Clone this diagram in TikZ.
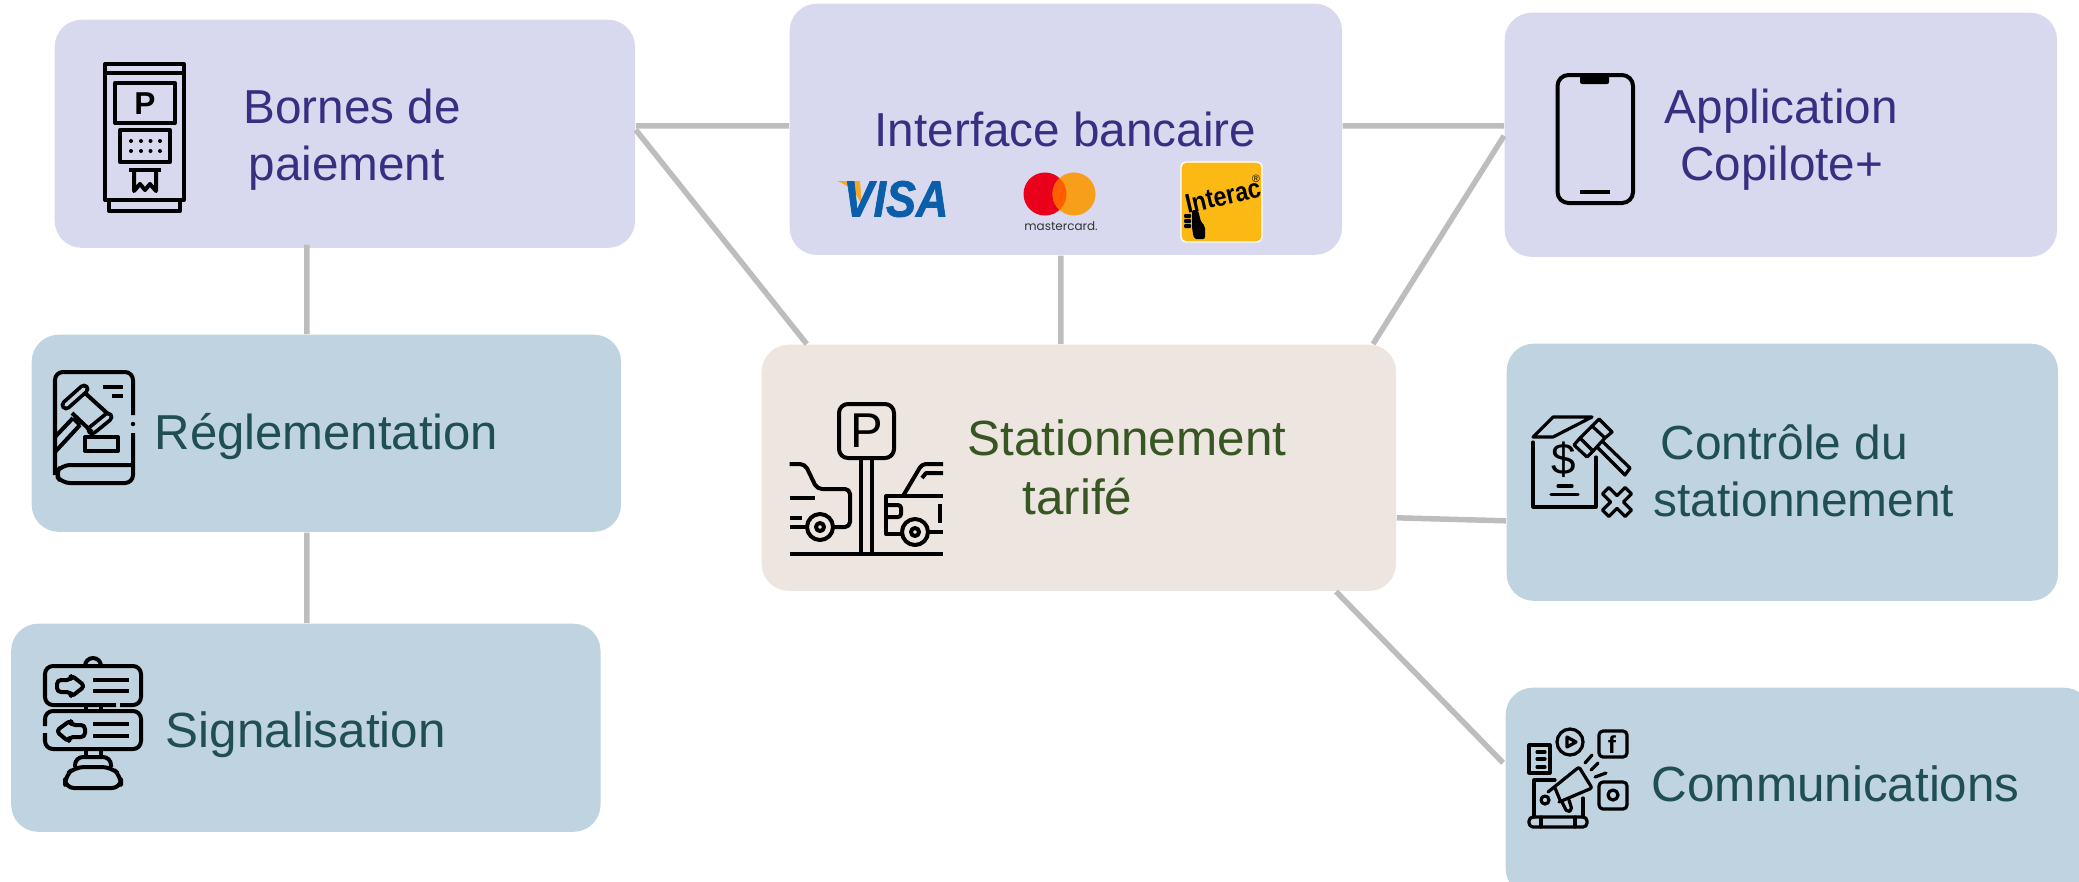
\documentclass[tikz,border=0pt]{standalone}
\usepackage{fontspec}
\setmainfont{Liberation Sans}
\newfontfamily\mcfont{Poppins}
\newfontfamily\visafont[BoldItalicFeatures={FakeBold=1.5}]{Liberation Sans}
\usepackage{xcolor}
\usetikzlibrary{positioning}
\definecolor{navfill}{RGB}{216,217,239}
\definecolor{infofill}{RGB}{191,212,224}
\definecolor{corefill}{RGB}{236,229,224}
\definecolor{navtext}{RGB}{54,47,130}
\definecolor{infotext}{RGB}{31,78,84}
\definecolor{coretext}{RGB}{55,86,35}
\definecolor{linkgray}{RGB}{189,189,189}
\definecolor{visablue}{RGB}{10,94,170}
\definecolor{visaorange}{RGB}{247,168,35}
\definecolor{mcred}{RGB}{235,0,27}
\definecolor{mcorange}{RGB}{247,158,27}
\definecolor{mcmix}{RGB}{255,95,0}
\definecolor{interacfill}{RGB}{253,185,19}

\begin{document}
\begin{tikzpicture}[
    x=0.01cm, y=-0.01cm,
    box/.style={rectangle, rounded corners=0.27cm, inner sep=0pt, anchor=north west},
    navbox/.style={box, fill=navfill},
    infobox/.style={box, fill=infofill},
    corebox/.style={box, fill=corefill},
    label/.style={anchor=base west, inner sep=0pt, align=left},
    navlabel/.style={label, text=navtext, font=\fontsize{13.55}{16}\selectfont},
    infolabel/.style={label, text=infotext, font=\fontsize{14.05}{16.2}\selectfont},
    corelabel/.style={label, text=coretext, font=\fontsize{14.05}{16.7}\selectfont},
    link/.style={draw=linkgray, line width=0.055cm},
    icon/.style={draw=black, line width=0.04cm, line join=round},
    thin icon/.style={draw=black, line width=0.032cm, line join=round, line cap=round}
]
    \useasboundingbox (0,0) rectangle (2079,881);

    % Boxes
    \node[navbox, minimum width=5.80cm, minimum height=2.28cm] (bornes) at (54,19) {};
    \node[navbox, minimum width=5.52cm, minimum height=2.51cm] (bancaire) at (789,3) {};
    \node[navbox, minimum width=5.52cm, minimum height=2.44cm] (copilote) at (1504,12) {};
    \node[infobox, minimum width=5.89cm, minimum height=1.97cm] (regle) at (31,334) {};
    \node[infobox, minimum width=5.89cm, minimum height=2.08cm] (signal) at (10.5,623) {};
    \node[corebox, minimum width=6.34cm, minimum height=2.46cm] (tarif) at (761,344) {};
    \node[infobox, minimum width=5.51cm, minimum height=2.57cm] (controle) at (1506,343) {};
    \node[infobox, minimum width=5.85cm, minimum height=2.08cm] (comm) at (1505,687) {};

    % Links
    \draw[link] ([yshift=0.08cm]bornes.east) -- ([yshift=0.035cm]bancaire.west);
    \draw[link] ([yshift=0.04cm]bornes.east) -- ([xshift=-2.72cm]tarif.north);
    \draw[link] ([xshift=-0.38cm, yshift=0.04cm]bornes.south) -- ([xshift=-0.195cm]regle.north);
    \draw[link] ([xshift=-0.195cm]regle.south) -- ([xshift=0.01cm]signal.north);
    \draw[link] ([yshift=0.035cm]bancaire.east) -- ([yshift=0.09cm]copilote.west);
    \draw[link] ([xshift=-0.05cm]bancaire.south) -- ([xshift=-0.18cm]tarif.north);
    \draw[link] ([xshift=2.94cm]tarif.north) -- ([yshift=-0.01cm]copilote.west);
    \draw[link] ([yshift=-0.5cm]tarif.east) -- ([yshift=-0.485cm]controle.west);
    \draw[link] ([xshift=2.57cm]tarif.south) -- ([xshift=-0.02cm, yshift=0.29cm]comm.west);

    % Labels
    \node[navlabel] (bornestext) at (243,180) {Bornes de\\\hspace*{1.4pt}paiement};
    \node[navlabel] (bancairetext) at (874,146.5) {Interface bancaire};
    \node[navlabel] (copilotetext) at (1664,180) {Application\\\hspace*{4.5pt}Copilote+};
    \node[infolabel, font=\fontsize{13.95}{16.2}\selectfont] (regletext) at (154,449) {Réglementation};
    \node[infolabel] (signaltext) at (165,747) {Signalisation};
    \node[corelabel] (tariftext) at (967,514) {Stationnement\\\hspace*{15.6pt}tarifé};
    \node[infolabel, font=\fontsize{13.6}{16.2}\selectfont] (controletext) at (1653,516) {\hspace*{2pt}Contrôle du\\stationnement};
    \node[infolabel] (commtext) at (1651,801) {Communications};

    % Parking meter
    \draw[icon] (105,64) rectangle (184,200);
    \draw[icon] (105,73) -- (184,73);
    \draw[icon] (109,200) -- (109,211) -- (180,211) -- (180,200);
    \draw[icon] (115,83) rectangle (175,123);
    \node[font=\fontsize{9}{9}\selectfont\bfseries, inner sep=0pt] (meterp) at (145,104) {P};
    \draw[icon] (120,130) rectangle (170,162);
    \foreach \x in {131,141,150.5,160} {
        \foreach \y in {141,151} {
            \fill (\x,\y) circle[radius=0.02cm];
        }
    }
    \draw[icon] (129,170) -- (161,170);
    \draw[icon] (134,170) -- (134,191) -- (140,184) -- (145,190) -- (150,184) -- (156,191) -- (156,170);

    % Law book
    \draw[icon, rounded corners=0.08cm] (133,415) -- (133,372) -- (55,372) -- (55,475);
    \draw[icon, rounded corners=0.08cm] (133,433) -- (133,483) -- (62,483) -- (55,474) -- (62,465) -- (133,465);
    \fill (133,424) circle[radius=0.022cm];
    \draw[icon] (103,387) -- (123,387) (112,396) -- (123,396);
    \draw[icon, line width=0.11cm, line cap=round] (66,405) -- (84,389);
    \draw[infofill, line width=0.035cm, line cap=round] (66,405) -- (84,389);
    \draw[icon, line width=0.11cm, line cap=round] (92,430) -- (108,417);
    \draw[infofill, line width=0.035cm, line cap=round] (92,430) -- (108,417);
    \draw[icon] (85,393) -- (107,413) (72,413) -- (92,432);
    \draw[icon] (73,418) -- (80,425) (73,418) -- (55,437) (80,425) -- (55,452);
    \draw[icon] (85,437) rectangle (118,451);

    % Road signs
    \draw[icon, rounded corners=0.08cm] (120,705) -- (141,705) -- (141,666) -- (45,666) -- (45,705) -- (116,705);
    \draw[icon, rounded corners=0.08cm] (45,726) -- (45,711) -- (141,711) -- (141,749) -- (45,749) -- (45,733);
    \draw[icon] (85,666) arc[start angle=180, end angle=0, radius=0.08cm];
    \draw[icon] (86,705) -- (86,711) (101,705) -- (101,711) (86,749) -- (86,757) (101,749) -- (101,757);
    \draw[icon, rounded corners=0.04cm] (57,680) -- (71,680) -- (71,675) -- (85,686) -- (71,697) -- (71,692) -- (57,692) -- cycle;
    \draw[icon, rounded corners=0.04cm] (85,725) -- (71,725) -- (71,720) -- (56,731) -- (69,742) -- (69,737) -- (85,737) -- cycle;
    \draw[icon] (93,680) -- (129,680) (93,691) -- (129,691) (93,724) -- (129,724) (93,736) -- (129,736);
    \draw[icon, rounded corners=0.08cm] (75,767) -- (75,757) -- (111,757) -- (111,767);
    \draw[icon, rounded corners=0.09cm] (75,767) -- (111,767) -- (121,776) -- (121,788) -- (65,788) -- (65,776) -- cycle;

    % Parking sign and cars
    \draw[icon, rounded corners=0.09cm] (839,404) rectangle (894,458);
    \node[font=\fontsize{13.9}{14}\selectfont, inner sep=0pt] (signp) at (867,431) {P};
    \draw[icon] (861,458) -- (861,553) (872,458) -- (872,553);
    \draw[icon] (789.5,554) -- (943,554);
    \draw[icon, rounded corners=0.05cm] (789.5,464) -- (805,464) -- (817,489) -- (850,489) -- (850,527) -- (832,527);
    \draw[icon] (789.5,498) -- (815,498) (789.5,518) -- (802,518) (789.5,527) -- (807,527);
    \draw[icon] (820,527) circle[radius=0.13cm] circle[radius=0.04cm];
    \draw[icon, rounded corners=0.04cm] (943,464) -- (922,464) -- (903,496);
    \draw[icon] (943,473) -- (926,473) -- (922,478);
    \draw[icon] (943,496) -- (886,496) -- (886,534) -- (902,534);
    \draw[icon, rounded corners=0.03cm] (888,505) -- (901,505) -- (901,517) -- (888,517);
    \draw[icon] (915,532) circle[radius=0.13cm] circle[radius=0.04cm];
    \draw[icon] (928,532) -- (943,532) (940,504) -- (940,523);

    % Phone
    \draw[icon, rounded corners=0.11cm] (1557.5,75) rectangle (1633,203);
    \fill[rounded corners=0.02cm] (1580,75) rectangle (1609,84);
    \draw[icon] (1580,191.5) -- (1610,191.5);

    % Fine document and gavel
    \draw[thin icon] (1592,417) -- (1553,417) -- (1533,437) -- (1553,437) -- cycle;
    \draw[thin icon] (1533,442) -- (1533,507) -- (1596,507) -- (1596,457);
    \node[font=\fontsize{12.5}{13}\selectfont, inner sep=0pt] (finedollar) at (1564,460) {\$};
    \draw[thin icon] (1558,486) -- (1572,486) (1551,494.5) -- (1578,494.5);
    \draw[thin icon] (1599,419) -- (1612,432) -- (1605,438) -- (1592,426) -- cycle;
    \draw[thin icon] (1580,438) -- (1593,451) -- (1587,457) -- (1574,445) -- cycle;
    \draw[thin icon] (1592,426) -- (1580,438) (1605,438) -- (1593,451);
    \draw[thin icon] (1603,442) -- (1630,468) -- (1625,475) -- (1598,448);
    \begin{scope}[shift={(1617,502)}, rotate=45]
        \draw[thin icon] (-4.5,-16) -- (4.5,-16) -- (4.5,-4.5) -- (16,-4.5) -- (16,4.5) -- (4.5,4.5) -- (4.5,16) -- (-4.5,16) -- (-4.5,4.5) -- (-16,4.5) -- (-16,-4.5) -- (-4.5,-4.5) -- cycle;
    \end{scope}

    % Social media and megaphone
    \draw[thin icon] (1529,745) rectangle (1550,773);
    \draw[thin icon] (1537,752) -- (1545,752) (1537,759) -- (1545,759) (1537,767) -- (1545,767);
    \draw[thin icon] (1570,742) circle[radius=0.13cm];
    \draw[thin icon] (1567,737) -- (1576,742) -- (1567,747) -- cycle;
    \draw[thin icon, rounded corners=0.04cm] (1599,731) rectangle (1627,757);
    \node[font=\fontsize{7}{7}\selectfont\bfseries, inner sep=0pt] (commf) at (1612,745) {f};
    \draw[thin icon, rounded corners=0.04cm] (1599,782) rectangle (1627,809);
    \draw[thin icon] (1613,795) circle[radius=0.05cm];
    \draw[thin icon] (1555,780) -- (1534,780) -- (1534,817);
    \draw[thin icon] (1583,798) -- (1583,817);
    \draw[thin icon, rounded corners=0.04cm] (1529,817) -- (1587,817) -- (1587,827) -- (1529,827) -- cycle;
    \draw[thin icon] (1541,817) -- (1541,827) (1575,817) -- (1575,827);
    \draw[thin icon, rounded corners=0.02cm] (1548,792) -- (1579,767) -- (1592,788) -- (1559,802);
    \draw[thin icon] (1545,800) circle[radius=0.04cm];
    \draw[thin icon] (1555,788) -- (1560,800);
    \draw[thin icon, rounded corners=0.02cm] (1562,802) -- (1567,812) -- (1572,810) -- (1569,800);
    \draw[thin icon] (1585,763) -- (1592,755) (1591,770) -- (1598,763) (1595,777) -- (1606,773);

    % Visa
    \fill[visaorange] (837,181) -- (860,181) -- (862,207) .. controls (858,194) and (850,186) .. (837,181);
    \node[font=\visafont\fontsize{14.5}{15}\selectfont\bfseries\itshape, text=visablue, inner sep=0pt, xscale=0.88, transform shape] (visa) at (896,199) {VISA};

    % Mastercard
    \fill[mcred] (1045,194) circle[radius=0.215cm];
    \fill[mcorange] (1074,194) circle[radius=0.215cm];
    \begin{scope}
        \clip (1045,194) circle[radius=0.215cm];
        \fill[mcmix] (1074,194) circle[radius=0.215cm];
    \end{scope}
    \node[font=\mcfont\fontsize{3.4}{4}\selectfont, text=black!80, inner sep=0pt] (mastercard) at (1061,226) {mastercard.};

    % Interac
    \draw[white, fill=interacfill, rounded corners=0.05cm] (1181,162) rectangle (1262,242);
    \node[font=\fontsize{7.7}{8}\selectfont\bfseries, inner sep=0pt, rotate=13, xscale=0.86, transform shape] (interac) at (1223,196) {Interac};
    \node[font=\fontsize{3}{3}\selectfont, inner sep=0pt] (interacreg) at (1256,179) {®};
    \fill[rounded corners=0.02cm] (1192,210) -- (1198,210) -- (1201,222) -- (1205,226) -- (1205,239) -- (1194,239) -- (1192,228) -- cycle;
    \foreach \y in {216,221,226} {
        \fill[rounded corners=0.01cm] (1184,\y-2) rectangle (1191,\y+2);
    }
\end{tikzpicture}
\end{document}
